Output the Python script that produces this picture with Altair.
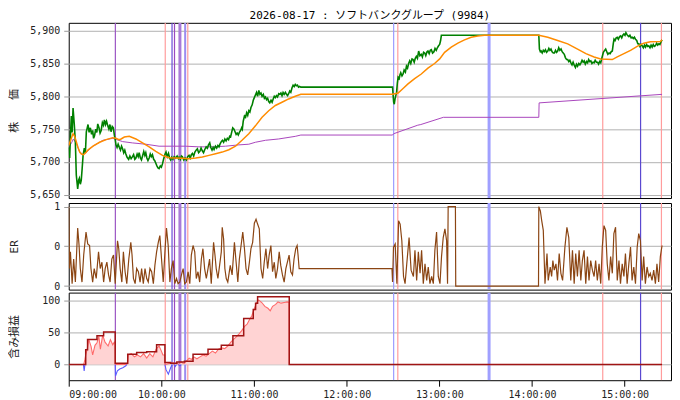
import altair as alt
import pandas as pd

TITLE = "2026-08-17 : ソフトバンクグループ (9984)"
FONT = "DejaVu Sans Mono, Noto Sans CJK JP, monospace"

# ---- price (minutes after 09:00, yen) ----
price_min = [0, 0.6, 1.2, 1.7, 2.2, 2.8, 3.6, 4.3, 4.9, 5.8, 6.4, 6.9, 7.5, 8.1, 8.7, 9.3, 10.1, 10.8, 11.4, 12.0,
             12.5, 13.2, 14, 14.8, 15.5, 16.1, 16.7, 17.5, 18.2, 18.8, 19.6, 20.3, 21, 21.8, 22.5, 23.1, 23.8, 24.5,
             25.3, 26, 26.7, 27.4, 28.2, 28.9, 29.6, 30.2, 30.6, 31.3, 32, 32.8, 33.5, 34.2, 34.9, 35.6, 36.3, 37,
             37.8, 38.8, 39.6, 40.4, 41.3, 42, 42.8, 43.5, 44.3, 45, 45.6, 46.4, 47.1, 47.8, 48.6, 49.3, 49.9, 50.6,
             51.3, 52.1, 52.8, 53.5, 54.2, 55, 55.7, 56.4, 57.1, 57.8, 58.5, 59.3, 60, 60.7, 61.5, 62.4, 63, 63.8,
             64.6, 65.3, 66, 66.7, 67.5, 68.2, 69.3, 70.2, 71, 71.5, 72.3, 73, 73.6, 74.5, 75.3, 76.2, 77, 77.9, 78.7,
             79.4, 80.1, 80.9, 81.7, 82.5, 83.3, 84.1, 84.9, 85.7, 86.5, 87.3, 88.1, 89, 89.8, 90.5, 91.3, 92, 92.8,
             93.5, 94.1, 95, 95.8, 96.6, 97.3, 98.1, 98.8, 99.5, 100.3, 101.1, 101.9, 102.7, 103.5, 104.2, 104.8,
             105.5, 106.2, 107, 107.7, 108.4, 109.1, 109.8, 110.5, 111.3, 112, 112.4, 113, 113.8, 114.5, 115.2,
             115.9, 116.6, 117.3, 118, 118.8, 119.5, 120.2, 120.9, 121.6, 122.3, 123.1, 123.8, 124.5, 125.2, 126,
             126.7, 127.4, 128.1, 128.8, 129.5, 130.2, 131, 131.7, 132.4, 133.1, 133.8, 134.5, 135.2, 136, 136.7,
             137.4, 138.1, 138.8, 139.5, 140.3, 141, 141.7, 142.4, 143.1, 143.8, 144.6, 145.3, 146, 146.7, 147.4,
             148.1, 148.8, 149.5, 150.3, 209.7, 210.1, 210.4, 210.8, 211.3, 211.8, 212.3, 212.8, 213.3, 214, 214.5,
             215, 215.8, 216.5, 217.2, 218, 218.7, 219.4, 220.1, 220.8, 221.5, 222.3, 223, 223.7, 224.4, 225.1,
             225.8, 226.6, 227.4, 228.3, 229, 229.8, 230.5, 231.2, 232, 232.6, 233.4, 234.1, 234.8, 235.6, 236.5,
             237.2, 238, 238.7, 239.5, 240.2, 240.8, 241.3, 304.4, 304.8, 305.4, 305.9, 306.6, 307.3, 308, 308.7,
             309.4, 310.2, 310.9, 311.6, 312.3, 313, 313.8, 314.5, 315.2, 315.9, 316.6, 317.3, 318, 318.8, 319.5,
             320.2, 320.9, 321.6, 322.4, 323.1, 323.8, 324.5, 325.2, 325.9, 326.6, 327.4, 328.1, 328.8, 329.5,
             330.3, 331, 331.7, 332.4, 333.1, 333.8, 334.5, 335.3, 336, 336.7, 337.4, 338.1, 338.8, 339.5, 340.2,
             340.9, 341.7, 342.4, 343.1, 343.8, 344.5, 345.2, 346.2, 347, 347.7, 348.4, 349.1, 349.9, 350.6, 351.3,
             352, 352.6, 353.1, 353.8, 354.5, 355.2, 355.9, 356.7, 357.4, 358.1, 358.8, 359.5, 360.2, 360.8, 361.5,
             362.2, 362.7, 363.4, 364.2, 364.9, 365.6, 366.3, 367, 367.8, 368.5, 369.2, 369.9, 370.6, 371.3, 372.1,
             372.8, 373.5, 374.2, 374.9, 375.6, 376.4, 377.1, 377.8, 378.5, 379.2, 379.9, 380.7, 381.4, 382.1,
             382.8, 383.5, 384.2]
price_val = [5722, 5706, 5745, 5770, 5745, 5782, 5757, 5730, 5680, 5659, 5672, 5675, 5666, 5672, 5690, 5710, 5721,
             5714, 5746, 5752, 5757, 5745, 5752, 5742, 5748, 5736, 5740, 5750, 5745, 5758, 5752, 5744, 5748, 5760,
             5756, 5764, 5757, 5762, 5755, 5750, 5757, 5746, 5754, 5752, 5740, 5733, 5726, 5722, 5727, 5722, 5718,
             5724, 5720, 5714, 5718, 5712, 5707, 5704, 5709, 5705, 5708, 5711, 5704, 5706, 5712, 5708, 5714, 5706,
             5703, 5709, 5716, 5710, 5714, 5706, 5702, 5706, 5712, 5708, 5711, 5704, 5702, 5698, 5694, 5691, 5690,
             5694, 5692, 5697, 5705, 5712, 5715, 5708, 5713, 5706, 5703, 5707, 5704, 5708, 5706, 5709, 5705, 5707,
             5704, 5709, 5708, 5703, 5706, 5703, 5708, 5710, 5706, 5711, 5713, 5709, 5715, 5718, 5720, 5714, 5716,
             5721, 5717, 5714, 5719, 5723, 5721, 5726, 5729, 5722, 5718, 5722, 5719, 5724, 5721, 5725, 5723, 5728,
             5731, 5733, 5730, 5735, 5732, 5736, 5734, 5739, 5738, 5745, 5752, 5750, 5746, 5742, 5744, 5741, 5745,
             5748, 5752, 5750, 5762, 5770, 5768, 5775, 5771, 5778, 5776, 5783, 5787, 5794, 5798, 5802, 5806, 5800,
             5809, 5803, 5805, 5800, 5803, 5797, 5799, 5795, 5797, 5792, 5790, 5794, 5791, 5796, 5800, 5798, 5801,
             5799, 5804, 5803, 5805, 5801, 5806, 5803, 5806, 5803, 5801, 5804, 5808, 5806, 5813, 5817, 5815, 5818,
             5816, 5817, 5814, 5815, 5814, 5814, 5800, 5791, 5788, 5796, 5801, 5806, 5820, 5829, 5827, 5833, 5836,
             5831, 5834, 5840, 5837, 5846, 5843, 5850, 5854, 5850, 5857, 5856, 5852, 5858, 5861, 5858, 5869, 5862,
             5864, 5860, 5867, 5866, 5862, 5868, 5869, 5865, 5870, 5871, 5866, 5868, 5873, 5870, 5874, 5877, 5879,
             5885, 5893, 5893, 5872, 5868, 5869, 5866, 5870, 5868, 5871, 5867, 5869, 5873, 5870, 5872, 5868, 5866,
             5866, 5870, 5867, 5869, 5874, 5870, 5872, 5868, 5866, 5864, 5859, 5856, 5856, 5853, 5855, 5851, 5848,
             5852, 5847, 5844, 5849, 5846, 5850, 5848, 5851, 5855, 5852, 5854, 5849, 5853, 5851, 5856, 5853, 5854,
             5850, 5852, 5851, 5855, 5852, 5852, 5849, 5853, 5851, 5858, 5867, 5870, 5872, 5868, 5864, 5866, 5865,
             5868, 5869, 5880, 5887, 5885, 5889, 5890, 5887, 5891, 5892, 5889, 5893, 5895, 5893, 5897, 5894, 5892,
             5891, 5893, 5889, 5890, 5888, 5890, 5887, 5885, 5880, 5880, 5876, 5879, 5877, 5874, 5878, 5875, 5879,
             5876, 5877, 5874, 5878, 5875, 5879, 5876, 5877, 5881, 5878, 5880, 5879, 5883, 5886]

# ---- moving average (orange) ----
ma_min = [0, 1.5, 2.8, 4, 5, 6, 7.1, 8.2, 9.6, 11, 12.4, 15.7, 20, 24.2, 28.5, 30.6, 32.5, 33.9, 36, 39.2, 43.5,
          47.8, 52.1, 56.4, 60.7, 65, 69.3, 73.6, 77.9, 82.2, 86.5, 90.8, 95.1, 99.4, 103.7, 108, 112.2, 116.6,
          120.9, 125.2, 129.5, 133.8, 138.1, 142.4, 146.7, 150.3, 209.7, 213.3, 216.5, 219.7, 224, 228.3, 232.6,
          236.9, 240.2, 243.4, 247.7, 252, 256.3, 260.6, 264.9, 269.2, 304.4, 310.2, 316.6, 323.1, 329.5, 334.9,
          340.2, 344.5, 352, 355.2, 359.5, 363.8, 368.1, 372.4, 376.7, 383.1, 384.2]
ma_val = [5725, 5735, 5743, 5738, 5730, 5722, 5715, 5712, 5711, 5714, 5718, 5724, 5730, 5734, 5737, 5736, 5734,
          5735, 5738, 5739, 5735, 5729, 5723, 5716, 5710, 5706.5, 5706, 5705.5, 5705, 5706, 5707.6, 5710, 5712.6,
          5715, 5718.6, 5724, 5733, 5743, 5755, 5768, 5778, 5786, 5791, 5796, 5800, 5803, 5803, 5805, 5812, 5819,
          5827, 5834, 5843, 5850, 5857, 5867, 5875, 5881, 5886, 5890, 5892, 5893, 5893, 5890, 5885, 5880, 5872,
          5865, 5860, 5857, 5856, 5860, 5865, 5870, 5876, 5881, 5883, 5883.5, 5886]

# ---- VWAP-like line (purple) ----
vw_min = [0, 2, 3, 5, 7, 9.2, 12, 15.7, 22.1, 28.5, 34.9, 41.3, 49.9, 58.5, 67.1, 75.7, 84.3, 92.9, 101.5, 110.1,
          116.6, 120.9, 127.4, 135.9, 146.7, 150.3, 209.7, 210.4, 226, 228, 242.6, 304.4, 304.6, 384.2]
vw_val = [5722, 5730, 5735, 5728, 5716, 5711, 5716, 5724, 5733, 5736, 5731, 5729, 5727, 5724, 5724, 5724, 5723,
          5723, 5724, 5726, 5727, 5730, 5733, 5735, 5739, 5741, 5741, 5743, 5756, 5757, 5768, 5768, 5790, 5803]

# ---- ER ----
er_min = [0, 0.5, 1.1, 2.2, 3.2, 4.3, 5.8, 6.7, 7.5, 8.6, 9.7, 11.2, 12.3, 13.5, 14.4, 15.5, 16.5, 17.8, 19.3, 20.4,
          21.5, 22.6, 23.6, 24.7, 25.8, 26.8, 27.9, 29.0, 30.1, 31.6, 32.4, 33.3, 34.4, 35.4, 36.5, 37.6, 38.9,
          40.2, 41.0, 41.9, 43.0, 44.0, 45.1, 46.2, 47.2, 48.3, 49.4, 50.5, 51.5, 52.6, 53.7, 54.8, 55.8, 56.9,
          58.0, 59.0, 60.1, 61.2, 62.3, 63.3, 64.4, 65.5, 66.5, 67.6, 68.7, 69.8, 70.8, 71.9, 73.0, 74.1, 75.1,
          76.2, 77.3, 78.4, 79.4, 80.5, 81.6, 82.6, 83.7, 84.8, 85.9, 86.9, 88.0, 89.1, 90.2, 91.2, 92.3, 93.8,
          94.7, 95.5, 96.6, 97.7, 98.8, 99.4, 100.3, 101.1, 102.0, 103.0, 104.6, 105.8, 107.3, 108.4, 109.5,
          110.5, 111.6, 112.7, 113.8, 114.8, 115.9, 117.0, 118.0, 119.1, 120.2, 121.3, 122.3, 123.4, 124.5,
          125.6, 126.6, 127.7, 128.8, 129.8, 130.9, 132.0, 133.1, 134.1, 135.2, 136.3, 137.3, 138.4, 139.5,
          140.6, 141.6, 142.7, 143.8, 144.9, 145.9, 147.0, 147.9, 148.5, 149.2, 209.3,
          209.7, 210.3, 211.4, 212.5, 213.6, 214.6, 215.7, 216.8, 217.8, 218.9, 220.4, 221.7, 223.2, 224.2,
          225.3, 226.4, 227.5, 228.5, 229.6, 230.7, 231.8, 232.8, 233.9, 235.0, 236.1, 237.1, 238.2, 239.3,
          240.4, 241.4, 242.5, 243.6, 244.7, 245.3, 245.7, 250.4, 250.6, 304.2, 304.4, 305.4, 306.3, 307.3,
          308.4, 309.7, 310.5, 311.8, 312.7, 313.5, 314.4, 315.5, 316.5, 317.6, 318.7, 319.8, 321.3, 322.6,
          323.8, 325.1, 326.2, 327.3, 328.3, 329.4, 330.5, 331.6, 332.6, 333.7, 334.8, 335.9, 336.9, 338.0,
          339.1, 340.2, 341.2, 342.3, 343.4, 344.5, 345.5, 346.6, 347.7, 348.7, 349.8, 350.9, 352.0, 353.0,
          354.1, 355.2, 356.3, 357.3, 358.4, 359.5, 360.5, 361.6, 362.7, 363.8, 364.8, 365.9, 367.0, 368.1,
          369.1, 370.2, 371.3, 372.3, 373.4, 374.5, 375.6, 376.6, 377.7, 378.8, 379.9, 380.9, 382.0, 383.1,
          384.2]
er_val = [1.0, 0.22, 0.43, 0.03, 0.34, 0.05, 0.73, 0.51, 0.22, 0.05, 0.39, 0.68, 0.53, 0.51, 0.22, 0.05, 0.22,
          0.095, 0.43, 0.22, 0.30, 0.05, 0.22, 0.30, 0.14, 0.05, 0.34, 0.39, 0.03, 0.57, 0.47, 0.22, 0.05, 0.43,
          0.18, 0.03, 0.34, 0.55, 0.39, 0.095, 0.03, 0.22, 0.18, 0.05, 0.22, 0.03, 0.22, 0.095, 0.05, 0.22, 0.18,
          0.03, 0.26, 0.43, 0.55, 0.635, 0.34, 0.05, 0.43, 0.73, 0.51, 0.05, 0.22, 0.32, 0.03, 0.095, 0.03, 0.05,
          0.14, 0.22, 0.03, 0.05, 0.18, 0.03, 0.39, 0.51, 0.43, 0.095, 0.18, 0.05, 0.34, 0.47, 0.22, 0.095, 0.22,
          0.34, 0.03, 0.55, 0.39, 0.22, 0.095, 0.26, 0.43, 0.74, 0.59, 0.22, 0.095, 0.05, 0.26, 0.14, 0.55, 0.30,
          0.05, 0.34, 0.51, 0.68, 0.47, 0.22, 0.14, 0.30, 0.47, 0.55, 0.79, 0.84, 0.78, 0.72, 0.22, 0.095, 0.30,
          0.47, 0.22, 0.39, 0.51, 0.18, 0.30, 0.095, 0.22, 0.43, 0.26, 0.14, 0.05, 0.22, 0.30, 0.39, 0.18, 0.14,
          0.34, 0.47, 0.51, 0.39, 0.22, 0.22,
          0.05, 0.49, 0.53, 0.03, 0.82, 0.78, 0.57, 0.12, 0.03, 0.28, 0.61, 0.20, 0.12, 0.45, 0.07, 0.43, 0.16,
          0.45, 0.03, 0.28, 0.07, 0.24, 0.03, 0.12, 0.03, 0.45, 0.68, 0.12, 0.03, 0.37, 0.61, 0.72, 0.57, 0.03,
          1.0, 1.0, 0.0, 0.0, 1.0, 0.945, 0.82, 0.70, 0.03, 0.41, 0.07, 0.24, 0.12, 0.32, 0.20, 0.28, 0.07, 0.41,
          0.16, 0.07, 0.49, 0.74, 0.61, 0.07, 0.45, 0.03, 0.41, 0.12, 0.45, 0.07, 0.32, 0.45, 0.03, 0.37, 0.07,
          0.32, 0.20, 0.12, 0.32, 0.07, 0.28, 0.03, 0.49, 0.76, 0.70, 0.28, 0.07, 0.37, 0.16, 0.66, 0.74, 0.07,
          0.32, 0.03, 0.28, 0.12, 0.41, 0.03, 0.28, 0.49, 0.07, 0.24, 0.03, 0.49, 0.66, 0.57, 0.07, 0.37, 0.03,
          0.24, 0.12, 0.16, 0.07, 0.20, 0.03, 0.28, 0.05, 0.37, 0.51]

# ---- unrealised P&L ----
pnl_min = [0, 9.7, 10.5, 11, 12, 13, 14.5, 15.5, 17, 18.3, 19.5, 20.5, 22, 23.5, 25.5, 27, 28.5, 29.5, 30.0, 30.1,
           37.6, 38.2, 38.6, 40.5, 42.5, 44.5, 46.5, 48.5, 50.5, 52.5, 54.5, 56.5, 58.5, 60, 61, 62.2, 62.3, 67.5,
           68.2, 69.8, 71, 72.8, 74, 75, 76.5, 78, 79.5, 81, 83, 85, 87, 89, 91, 93, 95, 97, 99, 101, 103, 105,
           106.5, 108, 110, 112, 114, 115.5, 117, 118.5, 120, 121.5, 123, 125, 127, 129, 130.5, 132, 134, 135.5,
           137.5, 139.5, 141.5, 142.7, 142.8, 384.2]
pnl_val = [0, 0, 8, 15, 24, 39, 28, 15, 30, 34, 44, 24, 46, 35, 29, 39, 31, 35, 33, 0,
           0, 5, 15, 17, 12, 15, 12, 17, 10, 17, 12, 24, 29, 21, 15, 15, 0, 3,
           0, 3, 0, 4, 2, 2, 6, 10, 8, 12, 9, 12, 15, 13, 17, 21, 18, 24, 26, 25, 29, 35,
           39, 42, 47, 53, 60, 63, 70, 76, 86, 96, 101, 97, 91, 88, 84, 91, 94, 98,
           96, 97, 98, 97, 0, 0]
neg_min = [9.5, 10, 10.5, 30.1, 30.3, 31.5, 33, 35, 37, 37.6, 62.3, 63, 64.5, 66, 67, 68.2, 69, 69.8, 71, 72, 72.8]
neg_val = [0, -10, 0, 0, -18, -10, -7, -5, -2, 0, 0, -8, -15, -5, 0, 0, -3, 0, 0, -2, 0]
neg_seg = [1, 1, 1, 2, 2, 2, 2, 2, 2, 2, 3, 3, 3, 3, 3, 4, 4, 4, 5, 5, 5]
peak_min = [0, 9.7, 11, 12.2, 18.3, 22.6, 30.1, 38.2, 44, 50.5, 56.9, 62.3, 66, 70, 74.9, 80.5, 90.2, 98.8, 106.3,
            113.3, 119.5, 121, 122.3, 142.8, 384.2]
peak_val = [0, 0, 23, 39, 45, 51, 2, 16, 19, 20, 31, 3, 2, 4, 5, 16, 24, 30, 45, 72, 86, 96, 106, 0, 0]

# ---- trade markers (vertical lines) ----
rule_min = [30.2, 62.5, 66.9, 68.5, 72.0, 75.4, 77.1, 210.4, 213.1, 272.2, 345.8, 370.3, 383.8]
rule_color = ["#9b55c4", "#ff9c9c", "#6a4ad8", "#9a48c0", "#a87ad8", "#9c8cf0", "#ff9c9c",
              "#9c9cff", "#ff9c9c", "#a0a0ff", "#ff9c9c", "#5a48d0", "#ff9c9c"]
rule_width = [1.2, 1.2, 1.2, 1.2, 3, 2, 1.2, 1.2, 1.2, 3, 1.2, 1.2, 1.2]


def ts(m):
    s = int(round(m * 60))
    return f"2026-08-17T{9 + s // 3600:02d}:{(s % 3600) // 60:02d}:{s % 60:02d}"


def frame(mins, **cols):
    d = {"t": [ts(m) for m in mins]}
    d.update(cols)
    return pd.DataFrame(d)


price_df = frame(price_min, v=price_val)
ma_df = frame(ma_min, v=ma_val)
vw_df = frame(vw_min, v=vw_val)
er_df = frame(er_min, v=er_val)
pnl_df = frame(pnl_min, v=pnl_val)
neg_df = frame(neg_min, v=neg_val, s=neg_seg)
peak_df = frame(peak_min, v=peak_val)
rule_df = frame(rule_min, c=rule_color, w=rule_width)

W = 605
H1, H2, H3 = 176, 87, 88


def dt(h, m=0):
    return alt.DateTime(year=2026, month=8, date=17, hours=h, minutes=m)


XSCALE = alt.Scale(domain=[dt(9), dt(15, 30)])
X_NOAXIS = alt.X("t:T", scale=XSCALE, axis=None)
X_AXIS = alt.X("t:T", scale=XSCALE,
               axis=alt.Axis(values=[dt(h) for h in range(9, 16)], format="%H:%M:%S", title=None, grid=False,
                             tickColor="black", tickSize=6, labelPadding=3, labelFontSize=10))


def rules(xenc):
    return alt.Chart(rule_df).mark_rule(clip=True).encode(
        x=xenc,
        color=alt.Color("c:N", scale=None),
        strokeWidth=alt.StrokeWidth("w:Q", scale=None),
    )


def yaxis(title, h, **kw):
    return alt.Axis(title=title, titleX=-54.5, titleY=h / 2, titleAngle=270, titleAlign="center",
                    titleBaseline="middle", tickSize=5, labelPadding=4, tickColor="#999999", **kw)


Y1 = alt.Scale(domain=[5645, 5912], nice=False, zero=False)
y1 = alt.Y("v:Q", scale=Y1, axis=yaxis("株　　価", H1, values=[5650, 5700, 5750, 5800, 5850, 5900],
                                       format=",.0f"))

p1 = alt.layer(
    rules(X_NOAXIS),
    alt.Chart(vw_df).mark_line(color="#a846bc", strokeWidth=1, clip=True).encode(x=X_NOAXIS, y=y1),
    alt.Chart(price_df).mark_line(color="#008000", strokeWidth=1.6, clip=True).encode(x=X_NOAXIS, y=y1),
    alt.Chart(ma_df).mark_line(color="#ff8c00", strokeWidth=1.5, clip=True).encode(x=X_NOAXIS, y=y1),
).properties(width=W, height=H1,
             title=alt.Title(TITLE, fontSize=11, fontWeight="normal", font=FONT, offset=2, anchor="middle"))

Y2 = alt.Scale(domain=[-0.045, 1.045], nice=False, zero=False)
y2 = alt.Y("v:Q", scale=Y2, axis=yaxis("ER", H2, values=[0, 0.5, 1],
                                       labelExpr="datum.value == 1 ? '1' : '0'"))
p2 = alt.layer(
    rules(X_NOAXIS),
    alt.Chart(er_df).mark_line(color="#8b4513", strokeWidth=1.2, clip=True).encode(x=X_NOAXIS, y=y2),
).properties(width=W, height=H2)

Y3 = alt.Scale(domain=[-24.5, 112.5], nice=False, zero=False)
y3 = alt.Y("v:Q", scale=Y3, axis=yaxis("含み損益", H3, values=[0, 50, 100], format="d"))

p3 = alt.layer(
    rules(X_AXIS),
    alt.Chart(pnl_df).mark_area(color="#ffd3d3", opacity=1, clip=True).encode(x=X_AXIS, y=y3, y2=alt.datum(0)),
    alt.Chart(pnl_df).mark_line(color="#ff6a6a", strokeWidth=1.1, clip=True).encode(x=X_AXIS, y=y3),
    alt.Chart(neg_df).mark_line(color="#5a5aff", strokeWidth=1.1, clip=True).encode(
        x=X_AXIS, y=y3, detail="s:N"),
    alt.Chart(peak_df).mark_line(color="#a01414", strokeWidth=1.5, interpolate="step-after", clip=True).encode(
        x=X_AXIS, y=y3),
).properties(width=W, height=H3)

chart = alt.vconcat(p1, p2, p3, spacing=0).properties(
    padding={"left": 0, "top": 0, "right": 0, "bottom": 0}
).configure(font=FONT).configure_view(stroke="black", strokeWidth=1).configure_axis(
    labelFont=FONT, titleFont=FONT, labelFontSize=10, titleFontSize=11, gridColor="#b0b0b0", gridWidth=1,
    domain=False, labelColor="#222222", titleColor="#222222", titleFontWeight="normal"
)

chart.save("out.html", embed_options={"renderer": "svg", "actions": False})
